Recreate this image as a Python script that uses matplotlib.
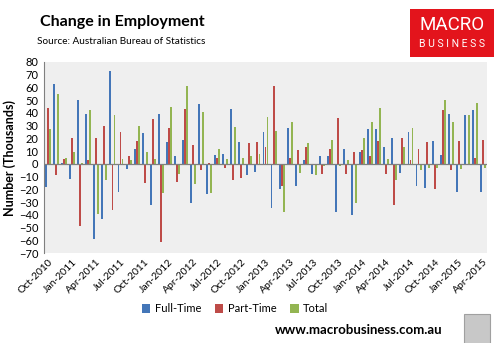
import matplotlib
matplotlib.use("Agg")
import matplotlib.pyplot as plt
import numpy as np
from matplotlib.patches import Rectangle

months = ["Oct-2010", "Nov-2010", "Dec-2010"] + \
    [f"{m}-{y}" for y in range(2011, 2015) for m in
     ["Jan", "Feb", "Mar", "Apr", "May", "Jun", "Jul", "Aug", "Sep", "Oct", "Nov", "Dec"]] + \
    ["Jan-2015", "Feb-2015", "Mar-2015", "Apr-2015"]

full_time = [-18, 63, 1, -12, 50, 39, -59, -43, 73, -22, -4, 12, 24, -32, 39, 17, 6, 19, -31, 47,
             -24, 7, 8, 43, 17, -9, -6, 25, -35, -20, 28, -17, 3, -8, 6, 6, -38, 12, -40, 9,
             27, 27, 13, 20, -7, 25, -17, -19, 18, 7, 39, -22, 38, 42, -22]
part_time = [44, -9, 4, 20, -49, 3, 20, 30, -36, 25, 6, 18, -15, 35, -61, 28, -14, 43, 15, -5,
             1, 5, -3, -13, -11, 16, 17, 13, 61, -17, 5, 11, 13, -1, -8, 12, 36, -8, 9, 11,
             6, 18, -8, -32, 20, 3, 12, 17, -20, 42, -5, 18, 0, 5, 19]
total = [27, 55, 5, 9, 1, 42, -39, -13, 38, 4, 3, 30, 9, 4, -23, 45, -8, 61, -16, 41,
         -23, 12, 4, 29, 5, 6, 8, 37, 26, -38, 33, -7, 16, -9, -2, 19, -2, 3, -31, 20,
         33, 44, 4, -13, 13, 28, -5, -3, -3, 50, 33, -4, 38, 48, -3]

series_names = ["Full-Time", "Part-Time", "Total"]
colors = ["#4476B8", "#BE4B48", "#93B552"]

plt.rcParams['font.family'] = ['Lato', 'DejaVu Sans']

fig = plt.figure(figsize=(5.02, 3.43), dpi=100)
ax = fig.add_axes([44/502, 1-253/343, (487-44)/502, (253-62)/343])
ax.set_facecolor("#EFEFEF")

x = np.arange(len(months))
w = 0.25
for i, (vals, name, c) in enumerate(zip([full_time, part_time, total], series_names, colors)):
    ax.bar(x + (i-1)*w, vals, width=w*0.95, color=c, label=name, zorder=2)

ax.set_xlim(-0.5, len(months)-0.5)
ax.set_ylim(-70, 80)
ax.set_yticks(range(-70, 81, 10))
ax.tick_params(axis='y', labelsize=8, length=0, pad=4)
ax.axhline(0, color="#808080", lw=0.9, zorder=3)
for s in ["top", "right", "bottom"]:
    ax.spines[s].set_visible(False)
ax.spines["left"].set_color("#808080")

ax.set_xticks(x[::3])
ax.set_xticklabels(months[::3], rotation=45, ha='right', rotation_mode='anchor', fontsize=7.5)
ax.tick_params(axis='x', length=0, pad=3)
ax.xaxis.set_ticks_position('bottom')

ax.set_ylabel("Number (Thousands)", fontsize=9, fontweight='bold', labelpad=2)

fig.text(122/502, 1-22/343, "Change in Employment", fontsize=11.5, fontweight='bold',
         ha='center', va='center')
fig.text(121/502, 1-42/343, "Source: Australian Bureau of Statistics", fontsize=7.2,
         ha='center', va='center')

# logo
fig.patches.append(Rectangle((410/502, 1-57/343), 84/502, 48/343, transform=fig.transFigure,
                             facecolor="#E3141C", edgecolor="none"))
fig.text(452/502, 1-25/343, "MACRO", fontsize=13.5, color="white", ha='center', va='center',
         family=['Roboto', 'DejaVu Sans'])
fig.text(452/502, 1-44/343, "B U S I N E S S", fontsize=7.5, color="white", ha='center', va='center',
         family=['Roboto', 'DejaVu Sans'])

leg = fig.legend(loc='center', bbox_to_anchor=(235/502, 1-309/343), ncol=3, frameon=False,
                 fontsize=8, handlelength=0.8, handleheight=0.8, columnspacing=1.2,
                 handletextpad=0.4)

fig.text(359/502, 1-330/343, "www.macrobusiness.com.au", fontsize=9.5, fontweight='bold',
         ha='center', va='center')
fig.patches.append(Rectangle((464/502, 1-344/343), 26/502, 30/343, transform=fig.transFigure,
                             facecolor="#C8C8C8", edgecolor="#A0A0A0", lw=0.8))

fig.savefig("out.png", dpi=100)
